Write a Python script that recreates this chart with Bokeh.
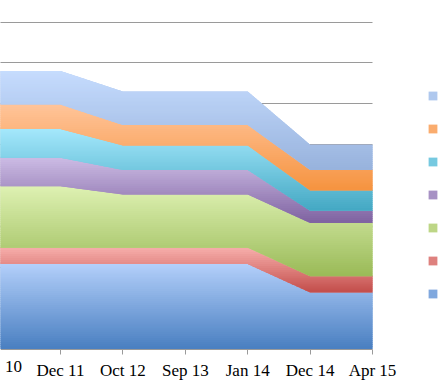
import numpy as np
from bokeh.plotting import figure
from bokeh.models import Range1d, FixedTicker, Legend, LegendItem, Label
from bokeh.core.properties import value
from bokeh.embed import file_html
from bokeh.resources import INLINE

# ---- data (bottom series first) ----
# first category label is cut off in the reference: only "10" is readable
dates = ["10", "Dec 11", "Oct 12", "Sep 13", "Jan 14", "Dec 14", "Apr 15"]
series_1 = [2.1, 2.1, 2.1, 2.1, 2.1, 1.4, 1.4]
series_2 = [0.4, 0.4, 0.4, 0.4, 0.4, 0.4, 0.4]
series_3 = [1.5, 1.5, 1.3, 1.3, 1.3, 1.3, 1.3]
series_4 = [0.7, 0.7, 0.6, 0.6, 0.6, 0.3, 0.3]
series_5 = [0.7, 0.7, 0.6, 0.6, 0.6, 0.5, 0.5]
series_6 = [0.6, 0.6, 0.5, 0.5, 0.5, 0.5, 0.5]
series_7 = [0.8, 0.8, 0.8, 0.8, 0.8, 0.6, 0.6]
y_gridlines = [1, 2, 3, 4, 5, 6, 7, 8]

series = [series_1, series_2, series_3, series_4, series_5, series_6, series_7]
# gradient colours (top, bottom) per series
gradients = [
    ("#b5d1fb", "#4a7fc1"),
    ("#f9b2af", "#c4504d"),
    ("#dff2b4", "#9bbb59"),
    ("#cebee6", "#8064a2"),
    ("#a6e9fd", "#45a9c4"),
    ("#ffc59b", "#f69441"),
    ("#c6dcfe", "#98b3dd"),
]


def hex2rgb(h):
    h = h.lstrip("#")
    return np.array([int(h[i:i + 2], 16) for i in (0, 2, 4)], dtype=float)


def mix(c0, c1, t):
    c = hex2rgb(c0) * (1 - t) + hex2rgb(c1) * t
    return "#%02x%02x%02x" % tuple(int(round(v)) for v in c)


def clip_band(xs, lo, hi, a, b):
    pts = set(xs.tolist())
    for f in (lo, hi):
        for i in range(len(xs) - 1):
            f0, f1 = f[i], f[i + 1]
            for c in (a, b):
                if (f0 - c) * (f1 - c) < 0:
                    pts.add(xs[i] + (c - f0) / (f1 - f0) * (xs[i + 1] - xs[i]))
    xx = np.array(sorted(pts))
    l = np.clip(np.interp(xx, xs, lo), a, b)
    h = np.clip(np.interp(xx, xs, hi), a, b)
    return xx, l, h


W, H = 440, 391
xs = np.arange(len(dates), dtype=float)
last = xs[-1]
px_per_x = 62.4
x_start = 2.4 / px_per_x
x_end = (W + 2.4) / px_per_x
px_per_y = 40.875
y_zero_px = 348.5           # screen row of the value 0
y_top = y_zero_px / px_per_y
y_bot = -(H - y_zero_px) / px_per_y

p = figure(width=W, height=H, output_backend="svg", toolbar_location=None,
           x_range=Range1d(x_start, x_end), y_range=Range1d(y_bot, y_top),
           min_border_left=0, min_border_right=0, min_border_top=0,
           min_border_bottom=0)
p.outline_line_color = None
p.background_fill_color = "white"

p.xgrid.visible = False
p.yaxis.visible = False
grid_color = "#9a9a9a"
if "cross_bounds" in p.ygrid[0].properties():
    p.ygrid.ticker = FixedTicker(ticks=y_gridlines)
    p.ygrid.cross_bounds = (xs[0], last)
    p.ygrid.grid_line_color = grid_color
    p.ygrid.grid_line_width = 1
else:
    p.ygrid.visible = False
    p.segment(x0=[xs[0]] * len(y_gridlines), x1=[last] * len(y_gridlines),
              y0=y_gridlines, y1=y_gridlines, line_color=grid_color, line_width=1)

ax = p.xaxis[0]
ax.fixed_location = 0
ax.ticker = FixedTicker(ticks=list(range(len(dates))))
ax.bounds = (x_start, last)
ax.major_label_overrides = {i: d for i, d in enumerate(dates)}
ax.axis_line_color = grid_color
ax.major_tick_line_color = grid_color
ax.major_tick_in = 0
ax.major_tick_out = 5
ax.minor_tick_line_color = None
ax.major_label_text_font = "Liberation Serif"
ax.major_label_text_font_size = "17px"
ax.major_label_text_color = "#000000"
ax.major_label_standoff = 7

bottom = np.zeros(len(dates))
backdrops = []
strip = 0.05
ov = 0.02
for s, (vals, (ctop, cbot)) in enumerate(zip(series, gradients)):
    lo = bottom.copy()
    hi = bottom + np.array(vals, dtype=float)
    lo_ext = lo - ov if s > 0 else lo
    ymin, ymax = lo.min(), hi.max()
    r = p.varea(x=xs, y1=lo_ext, y2=hi, fill_color=mix(ctop, cbot, 0.5))
    backdrops.append(r)
    n = max(1, int(np.ceil((ymax - lo_ext.min()) / strip)))
    edges = np.linspace(ymax, lo_ext.min(), n + 1)
    for k in range(n):
        b = edges[k] + (ov if k > 0 else 0)
        a = edges[k + 1]
        xx, l, h = clip_band(xs, lo_ext, hi, a, b)
        if np.all(h - l <= 1e-12):
            continue
        t = float(np.clip((ymax - (edges[k] + a) / 2) / (ymax - ymin), 0, 1))
        p.varea(x=xx, y1=l, y2=h, fill_color=mix(ctop, cbot, t))
    bottom = hi

# first category label: only its visible part, just right of the frame start
p.add_layout(Label(x=xs[0], y=0, text=dates[0], text_align="left",
                   text_baseline="top", x_offset=7, y_offset=-12,
                   text_font="Liberation Serif", text_font_size="17px",
                   text_color="#000000"))

items = [LegendItem(label=value(""), renderers=[backdrops[i]])
         for i in reversed(range(len(series)))]
legend = Legend(items=items, location=(427, 92), orientation="vertical",
                glyph_width=11, glyph_height=11, label_height=11, label_width=0,
                label_text_font_size="1px",
                spacing=22, padding=0, margin=0, label_standoff=0,
                border_line_color=None, background_fill_alpha=0)
p.add_layout(legend)

open("out.html", "w").write(file_html(p, INLINE))
